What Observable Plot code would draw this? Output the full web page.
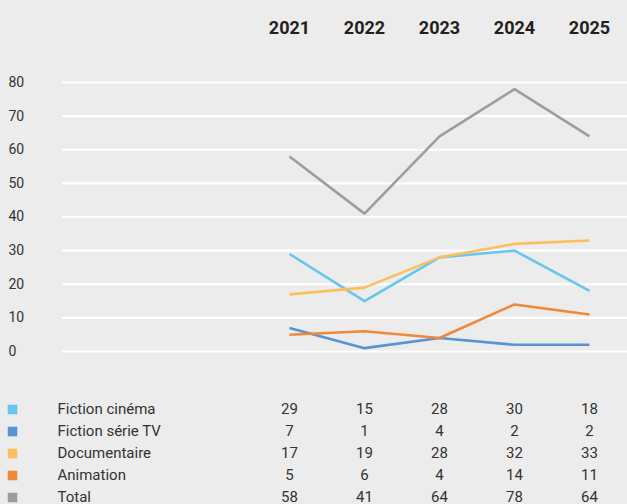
<!DOCTYPE html>
<html>
<head>
<meta charset="utf-8">
<script src="https://cdn.jsdelivr.net/npm/d3@7"></script>
<script src="https://cdn.jsdelivr.net/npm/@observablehq/plot@0.6"></script>
<style>
  html, body { margin: 0; padding: 0; background: #ececec; }
  #chart svg { display: block; }
</style>
</head>
<body>
<div id="chart"></div>
<script>
const years = ["2021", "2022", "2023", "2024", "2025"];
const seriesNames = ["Fiction cinéma", "Fiction série TV", "Documentaire", "Animation", "Total"];
const fictionCinema = [29, 15, 28, 30, 18];
const fictionSerieTV = [7, 1, 4, 2, 2];
const documentaire = [17, 19, 28, 32, 33];
const animation = [5, 6, 4, 14, 11];
const total = [58, 41, 64, 78, 64];
const yTicks = [0, 10, 20, 30, 40, 50, 60, 70, 80];
const seriesColors = ["#66c6f0", "#5595d3", "#fdbf5e", "#f0883a", "#9d9d9d"];

const seriesValues = [fictionCinema, fictionSerieTV, documentaire, animation, total];
const flat = [];
seriesNames.forEach((name, i) => {
  years.forEach((yr, j) => flat.push({series: name, year: yr, value: seriesValues[i][j]}));
});

const font = "Roboto, 'Liberation Sans', sans-serif";
const bg = "#ececec";
const xRange = [288, 590];

const chart = Plot.plot({
  width: 627,
  height: 380,
  marginLeft: 62,
  marginRight: 0,
  marginTop: 82,
  marginBottom: 29,
  style: {background: bg, fontFamily: font},
  x: {type: "point", domain: years, range: xRange, padding: 0, axis: null},
  y: {domain: [0, 80], axis: null},
  color: {domain: seriesNames, range: seriesColors},
  marks: [
    Plot.ruleY(yTicks, {stroke: "#ffffff", strokeWidth: 2.2}),
    Plot.text(yTicks, {y: d => d, text: d => String(d), frameAnchor: "left", dx: -54, textAnchor: "start", fontSize: 14, fill: "#333"}),
    Plot.text(years, {x: d => d, text: d => d, frameAnchor: "top", dy: -61, fontSize: 18, fontWeight: "bold", fill: "#231f20"}),
    Plot.line(flat, {x: "year", y: "value", z: "series", stroke: "series", strokeWidth: 2.6, strokeLinejoin: "miter", strokeLinecap: "butt"})
  ]
});

const table = Plot.plot({
  width: 627,
  height: 124,
  marginLeft: 0,
  marginRight: 0,
  marginTop: 0,
  marginBottom: 0,
  style: {background: bg, fontFamily: font},
  x: {type: "point", domain: years, range: xRange, padding: 0, axis: null},
  y: {type: "point", domain: seriesNames, range: [27.5, 117.5], padding: 0, axis: null},
  color: {domain: seriesNames, range: seriesColors},
  marks: [
    Plot.dot(seriesNames, {y: d => d, fill: d => d, symbol: "square", r: 5.4, frameAnchor: "left", dx: 12, stroke: null}),
    Plot.text(seriesNames, {y: d => d, text: d => d, frameAnchor: "left", dx: 57, textAnchor: "start", fontSize: 15, fill: "#333"}),
    Plot.text(flat, {x: "year", y: "series", text: d => String(d.value), fontSize: 15, fill: "#333"})
  ]
});

document.getElementById("chart").append(chart, table);
</script>
</body>
</html>
